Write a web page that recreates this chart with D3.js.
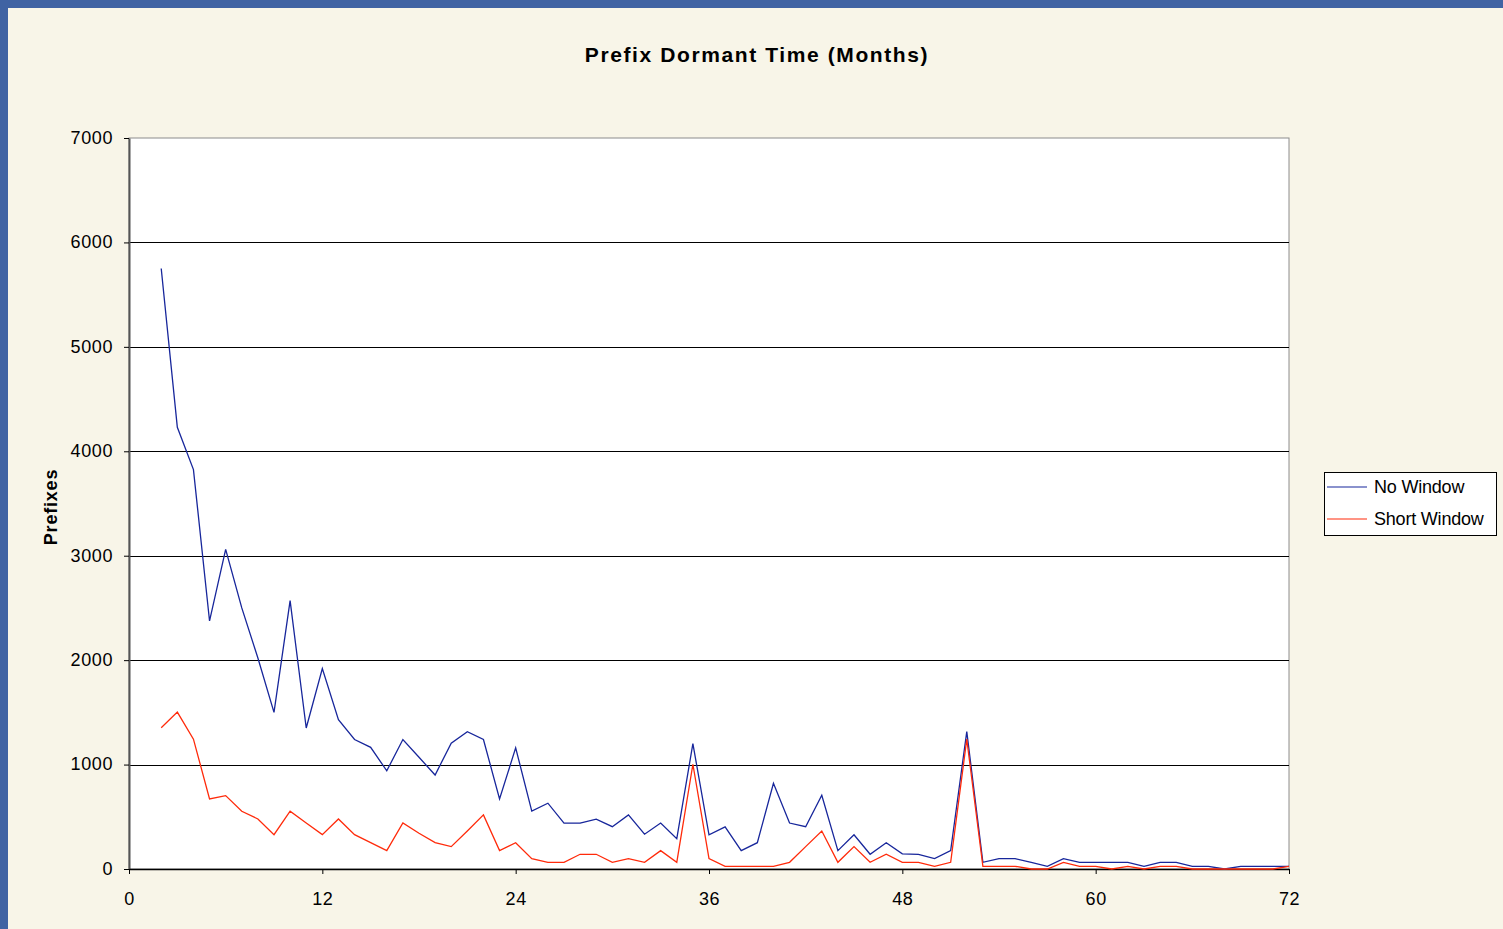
<!DOCTYPE html>
<html>
<head>
<meta charset="utf-8">
<script src="https://cdn.jsdelivr.net/npm/d3@7"></script>
<style>
  body { margin: 0; background: #4063a3; }
  #chart { display: block; }
  text { font-family: "Liberation Sans", Arial, sans-serif; }
</style>
</head>
<body>
<svg id="chart" width="1503" height="929"></svg>
<script>
// data
var months = [2,3,4,5,6,7,8,9,10,11,12,13,14,15,16,17,18,19,20,21,22,23,24,25,26,27,28,29,30,31,32,33,34,35,36,37,
  38,39,40,41,42,43,44,45,46,47,48,49,50,51,52,53,54,55,56,57,58,59,60,61,62,63,64,65,66,67,68,69,70,71,72];
var noWindow = [5750,4230,3825,2375,3060,2500,2020,1500,2570,1350,1920,1430,1240,1165,940,1240,1070,900,1205,1315,1240,670,1160,
  555,630,440,440,478,405,518,333,440,290,1200,328,403,176,252,820,440,405,706,176,328,141,252,145,141,99,176,1316,
  64,99,99,64,26,99,64,64,64,64,26,64,64,26,26,0,26,26,26,26];
var shortWindow = [1352,1502,1243,671,703,553,479,329,553,441,329,479,329,252,176,441,342,252,214,364,518,176,252,
  99,64,64,141,141,64,99,64,176,64,1003,99,26,26,26,26,64,214,364,64,214,64,141,64,64,26,64,1243,
  26,26,26,0,0,64,26,26,0,26,0,26,26,0,0,0,0,0,0,26];
var yTicks = [0,1000,2000,3000,4000,5000,6000,7000];
var xTicks = [0,12,24,36,48,60,72];
var seriesNames = ["No Window", "Short Window"];
var seriesColors = ["#17269b", "#ff2a0a"];

var svg = d3.select("#chart");

// beige panel inside the blue frame
svg.append("rect")
  .attr("x", 8).attr("y", 8)
  .attr("width", 1495).attr("height", 921)
  .attr("fill", "#f8f5e8");

var margin = {top: 138, left: 129, right: 1289, bottom: 869};

var x = d3.scaleLinear().domain([0, 72]).range([margin.left, margin.right]);
var y = d3.scaleLinear().domain([0, 7000]).range([margin.bottom, margin.top]);

// plot area
svg.append("rect")
  .attr("x", margin.left).attr("y", margin.top)
  .attr("width", margin.right - margin.left)
  .attr("height", margin.bottom - margin.top)
  .attr("fill", "white")
  .attr("stroke", "#8c8c8c")
  .attr("stroke-width", 1);

// gridlines
svg.append("g")
  .selectAll("line")
  .data(yTicks.filter(function(d) { return d > 0 && d < 7000; }))
  .enter()
  .append("line")
    .attr("x1", margin.left).attr("x2", margin.right)
    .attr("y1", function(d) { return Math.round(y(d)) + 0.5; })
    .attr("y2", function(d) { return Math.round(y(d)) + 0.5; })
    .attr("stroke", "#000")
    .attr("stroke-width", 1);

// y axis
var yAxis = svg.append("g")
  .attr("transform", "translate(" + margin.left + ",0)")
  .call(d3.axisLeft(y).tickValues(yTicks).tickFormat(d3.format("d"))
    .tickSize(5).tickSizeOuter(0).tickPadding(11));
yAxis.select(".domain").attr("stroke", "#555").attr("stroke-width", 2);
yAxis.selectAll(".tick line").attr("stroke", "#000");
yAxis.selectAll("text").style("font-size", "18px").style("letter-spacing", "0.6px")
  .attr("fill", "#000").attr("dy", "0.3em");

// x axis
var xAxis = svg.append("g")
  .attr("transform", "translate(0," + margin.bottom + ")")
  .call(d3.axisBottom(x).tickValues(xTicks).tickSize(5).tickSizeOuter(0).tickPadding(18));
xAxis.select(".domain").attr("stroke", "#000").attr("stroke-width", 1.5);
xAxis.selectAll(".tick line").attr("stroke", "#000");
xAxis.selectAll("text").style("font-size", "18px").style("letter-spacing", "0.6px").attr("fill", "#000");

// lines
var line = d3.line()
  .x(function(d) { return x(d[0]); })
  .y(function(d) { return y(d[1]); });

[noWindow, shortWindow].forEach(function(vals, i) {
  svg.append("path")
    .datum(months.map(function(m, j) { return [m, vals[j]]; }))
    .attr("fill", "none")
    .attr("stroke", seriesColors[i])
    .attr("stroke-width", 1.3)
    .attr("d", line);
});

// title
svg.append("text")
  .attr("x", 757).attr("y", 62)
  .attr("text-anchor", "middle")
  .style("font-size", "21px")
  .style("font-weight", "bold")
  .style("letter-spacing", "1.6px")
  .text("Prefix Dormant Time (Months)");

// y axis title
svg.append("text")
  .attr("transform", "translate(57,507) rotate(-90)")
  .attr("text-anchor", "middle")
  .style("font-size", "18px")
  .style("font-weight", "bold")
  .style("letter-spacing", "0.8px")
  .text("Prefixes");

// legend
var legend = svg.append("g").attr("transform", "translate(1324,472)");
legend.append("rect")
  .attr("x", 0.5).attr("y", 0.5)
  .attr("width", 172).attr("height", 63)
  .attr("fill", "white")
  .attr("stroke", "#000");
seriesNames.forEach(function(name, i) {
  var ly = 15 + i * 32;
  legend.append("line")
    .attr("x1", 3).attr("x2", 43)
    .attr("y1", ly).attr("y2", ly)
    .attr("stroke", seriesColors[i])
    .attr("stroke-width", 1.2);
  legend.append("text")
    .attr("x", 50).attr("y", ly + 6)
    .style("font-size", "18px")
    .style("letter-spacing", "-0.2px")
    .text(name);
});
</script>
</body>
</html>
